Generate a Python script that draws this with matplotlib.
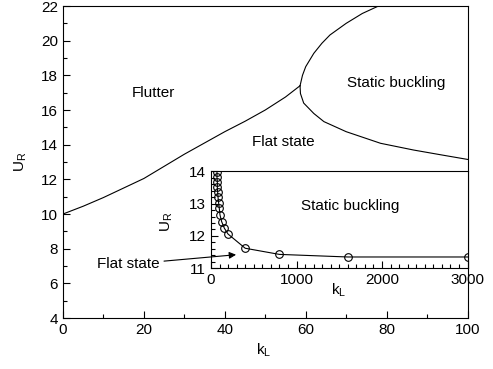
import numpy as np
import matplotlib
matplotlib.use('Agg')
import matplotlib.pyplot as plt
from matplotlib.ticker import MultipleLocator

plt.rcParams['font.family'] = ['Liberation Sans', 'DejaVu Sans']
plt.rcParams['mathtext.fontset'] = 'custom'
plt.rcParams['mathtext.rm'] = 'Liberation Sans'
plt.rcParams['mathtext.it'] = 'Liberation Sans'
plt.rcParams['font.size'] = 11

# main diagram: boundaries in (k_L, U_R)
flutter_k = [0, 5, 10, 15, 20, 25, 30, 35, 40, 45, 50, 55, 58.6]
flutter_u = [10.0, 10.45, 10.95, 11.5, 12.05, 12.75, 13.45, 14.1, 14.75, 15.35, 16.0, 16.75, 17.4]
upper_k = [58.6, 59.2, 60, 62, 64, 66, 70, 74, 78]
upper_u = [17.4, 18.0, 18.5, 19.27, 19.85, 20.33, 21.0, 21.57, 22.0]
lower_k = [58.6, 58.7, 59.5, 62, 64.5, 70, 78.5, 86.7, 93.3, 100]
lower_u = [17.4, 16.95, 16.4, 15.8, 15.33, 14.75, 14.08, 13.69, 13.42, 13.15]

# inset: large k_L
inset_k = [70, 70, 74, 74, 78, 82, 89, 97, 105, 125, 156, 199, 400, 800, 1600, 3000]
inset_u = [13.97, 13.81, 13.66, 13.5, 13.35, 13.2, 13.03, 12.85, 12.65, 12.44, 12.24, 12.06,
           11.62, 11.43, 11.35, 11.35]

fig = plt.figure(figsize=(4.93, 3.69), dpi=100)
ax = fig.add_axes([0.1278, 0.1382, 0.8205, 0.8455])
ax.plot(flutter_k, flutter_u, color='k', lw=0.8)
ax.plot(upper_k, upper_u, color='k', lw=0.8)
ax.plot(lower_k, lower_u, color='k', lw=0.8)
ax.set_xlim(0, 100)
ax.set_ylim(4, 22)
ax.xaxis.set_major_locator(MultipleLocator(20))
ax.xaxis.set_minor_locator(MultipleLocator(10))
ax.yaxis.set_major_locator(MultipleLocator(2))
ax.yaxis.set_minor_locator(MultipleLocator(1))
ax.tick_params(which='both', direction='in', top=False, right=False, width=0.8)
ax.tick_params(which='major', length=5)
ax.tick_params(which='minor', length=3)
ax.set_xlabel('k$_\\mathrm{L}$')
ax.set_ylabel('U$_\\mathrm{R}$')
ax.xaxis.set_label_coords(0.495, -0.075)
ax.yaxis.set_label_coords(-0.085, 0.5)
ax.text(22.3, 16.96, 'Flutter', ha='center', va='center')
ax.text(54.5, 14.17, 'Flat state', ha='center', va='center')
ax.text(82.3, 17.54, 'Static buckling', ha='center', va='center')

axi = fig.add_axes([0.428, 0.2729, 0.5203, 0.2629])
axi.plot(inset_k, inset_u, color='k', lw=0.8, marker='o', ms=5.5, mfc='none', mew=0.8)
axi.set_xlim(0, 3000)
axi.set_ylim(11, 14)
axi.xaxis.set_major_locator(MultipleLocator(1000))
axi.xaxis.set_minor_locator(MultipleLocator(100))
axi.yaxis.set_major_locator(MultipleLocator(1))
axi.yaxis.set_minor_locator(MultipleLocator(0.2))
axi.tick_params(which='both', direction='in', top=False, right=False, width=0.8)
axi.tick_params(which='major', length=5)
axi.tick_params(which='minor', length=3)
axi.set_xlabel('k$_\\mathrm{L}$')
axi.set_ylabel('U$_\\mathrm{R}$')
axi.xaxis.set_label_coords(0.496, -0.135)
axi.yaxis.set_label_coords(-0.14, 0.48)
axi.text(1622, 12.94, 'Static buckling', ha='center', va='center')
axi.annotate('Flat state', xy=(293, 11.42), xytext=(16.2, 7.1), textcoords=ax.transData,
             ha='center', va='center', annotation_clip=False,
             arrowprops=dict(arrowstyle='-|>', color='k', lw=0.8, mutation_scale=10,
                             shrinkA=1, shrinkB=0))

for a in (ax, axi):
    for s in a.spines.values():
        s.set_linewidth(0.8)

fig.savefig('out.png', dpi=100)
